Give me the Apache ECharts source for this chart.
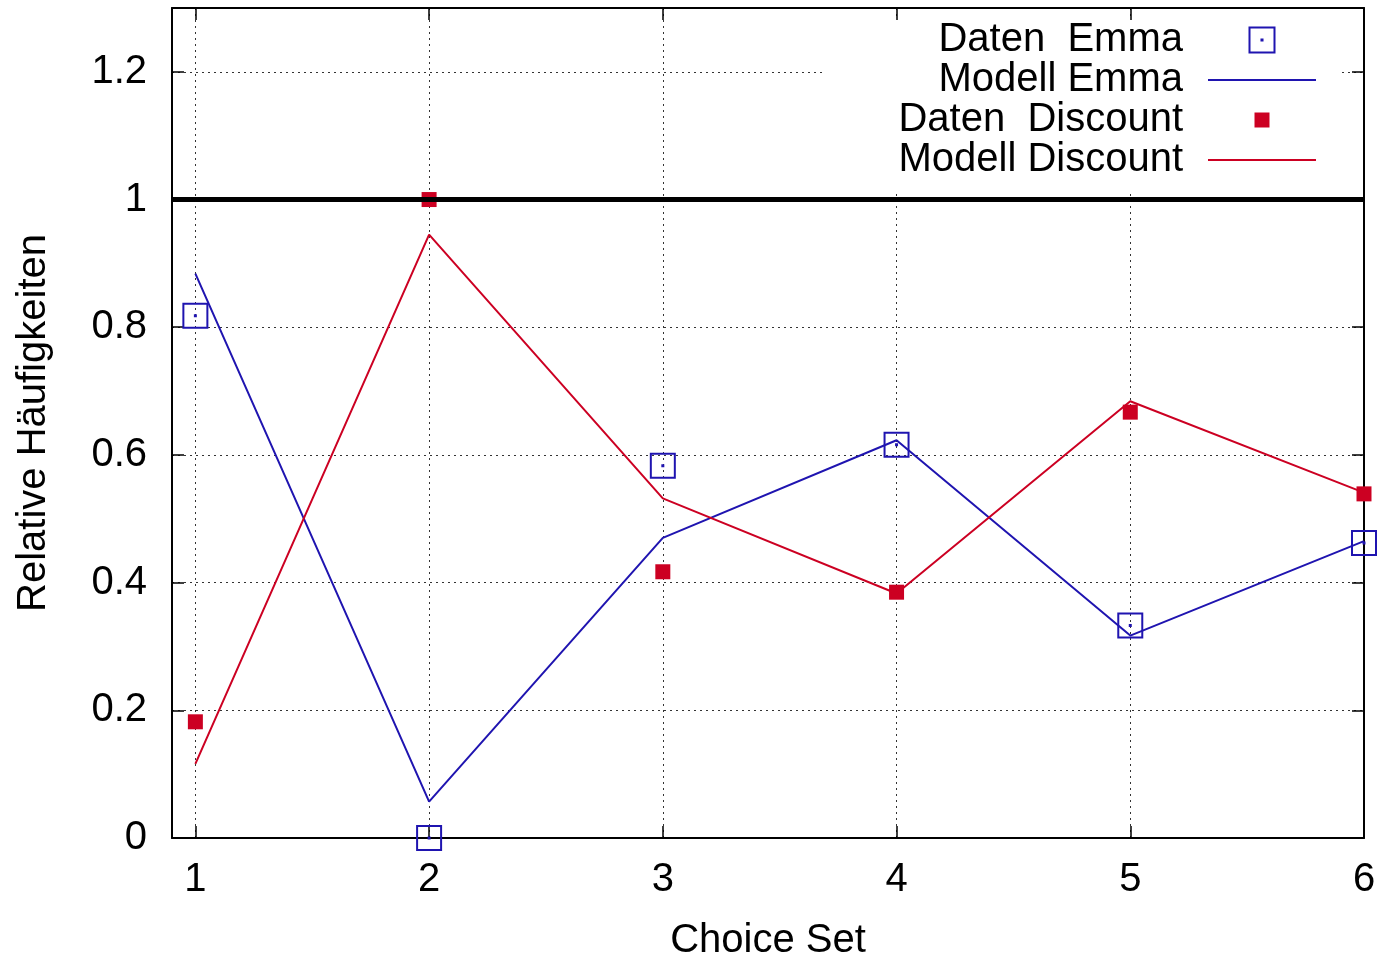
<!DOCTYPE html>
<html>
<head>
<meta charset="utf-8">
<title>Choice Set</title>
<script src="https://cdn.jsdelivr.net/npm/echarts@6/dist/echarts.min.js"></script>
<style>
    html, body { margin: 0; padding: 0; background: #fff; }
    #box { width: 1385px; height: 958px; }
</style>
</head>
<body>
<div id="box"></div>
<script>
var choiceSets = [1, 2, 3, 4, 5, 6];
var datenEmma = [0.818, 0, 0.583, 0.616, 0.333, 0.462];
var modellEmma = [0.884, 0.057, 0.470, 0.623, 0.317, 0.465];
var datenDiscount = [0.182, 1.0, 0.417, 0.385, 0.667, 0.539];
var modellDiscount = [0.116, 0.945, 0.532, 0.383, 0.684, 0.541];
var yTicks = [0, 0.2, 0.4, 0.6, 0.8, 1, 1.2];

var blue = '#1f14b0';
var red = '#cc0022';
var font = 'Liberation Sans, Arial, sans-serif';
var lineIcon = 'path://M0,0L108,0L108,2L0,2Z';

function pairs(ys) {
    var out = [];
    for (var i = 0; i < choiceSets.length; i++) {
        out.push([choiceSets[i], ys[i]]);
    }
    return out;
}

function frameAxis(pos, isX, showLabel) {
    var ax = {
        type: 'value',
        position: pos,
        min: isX ? 0.9 : 0,
        max: isX ? 6 : 1.3,
        axisLine: { show: true, onZero: false, lineStyle: { color: '#000', width: 2 } },
        axisTick: { show: true, inside: true, length: 12, lineStyle: { color: '#000', width: 1.5 },
            customValues: isX ? choiceSets : yTicks },
        axisLabel: { show: showLabel, color: '#000', fontFamily: font, fontSize: 40,
            margin: isX ? 22 : 25, customValues: isX ? choiceSets : yTicks },
        splitLine: { show: false }
    };
    if (showLabel) {
        ax.splitLine = { show: true, lineStyle: { color: '#333', width: 1, type: [2, 4] } };
        ax.nameLocation = 'middle';
        ax.nameTextStyle = { color: '#000', fontFamily: font, fontSize: 40 };
        if (isX) {
            ax.name = 'Choice Set';
            ax.nameGap = 83;
        } else {
            ax.name = 'Relative Häufigkeiten';
            ax.nameGap = 118;
            ax.nameRotate = 90;
        }
    }
    return ax;
}

var myChart = echarts.init(document.getElementById('box'));
myChart.setOption({
    animation: false,
    backgroundColor: '#fff',
    textStyle: { fontFamily: font },
    grid: { left: 172, right: 21, top: 8, bottom: 120, containLabel: false, outerBoundsMode: 'none' },
    legend: {
        data: [
            { name: 'Daten  Emma' },
            { name: 'Modell Emma', icon: lineIcon },
            { name: 'Daten  Discount' },
            { name: 'Modell Discount', icon: lineIcon }
        ],
        orient: 'vertical',
        align: 'right',
        right: 45,
        top: 20,
        padding: [0, 24, 11, 74],
        backgroundColor: '#fff',
        itemWidth: 108,
        itemHeight: 25,
        itemGap: 0,
        selectedMode: false,
        textStyle: { color: '#000', fontFamily: font, fontSize: 40, padding: [0, 20, 0, 0] }
    },
    xAxis: [frameAxis('bottom', true, true), frameAxis('top', true, false)],
    yAxis: [frameAxis('left', false, true), frameAxis('right', false, false)],
    series: [
        {
            // dicke Linie bei 1
            name: 'eins',
            type: 'line',
            data: [],
            silent: true,
            markLine: {
                silent: true,
                symbol: 'none',
                label: { show: false },
                lineStyle: { color: '#000', width: 5, type: 'solid' },
                data: [{ yAxis: 1 }]
            }
        },
        {
            name: 'Daten  Emma',
            type: 'scatter',
            symbol: 'path://M0,0L24,0L24,24L0,24ZM11.5,11.5L12.5,11.5L12.5,12.5L11.5,12.5Z',
            symbolSize: 24,
            clip: false,
            itemStyle: { color: 'rgba(0,0,0,0)', borderColor: blue, borderWidth: 2, opacity: 1 },
            data: pairs(datenEmma)
        },
        {
            name: 'Modell Emma',
            type: 'line',
            symbol: 'none',
            lineStyle: { color: blue, width: 2 },
            itemStyle: { color: blue },
            data: pairs(modellEmma)
        },
        {
            name: 'Daten  Discount',
            type: 'scatter',
            symbol: 'path://M0,0M25,25M5,5L20,5L20,20L5,20Z',
            symbolSize: 25,
            clip: false,
            itemStyle: { color: red, opacity: 1 },
            data: pairs(datenDiscount)
        },
        {
            name: 'Modell Discount',
            type: 'line',
            symbol: 'none',
            lineStyle: { color: red, width: 2 },
            itemStyle: { color: red },
            data: pairs(modellDiscount)
        }
    ]
});
window.addEventListener('resize', function () {
    myChart.resize();
});
</script>
</body>
</html>
